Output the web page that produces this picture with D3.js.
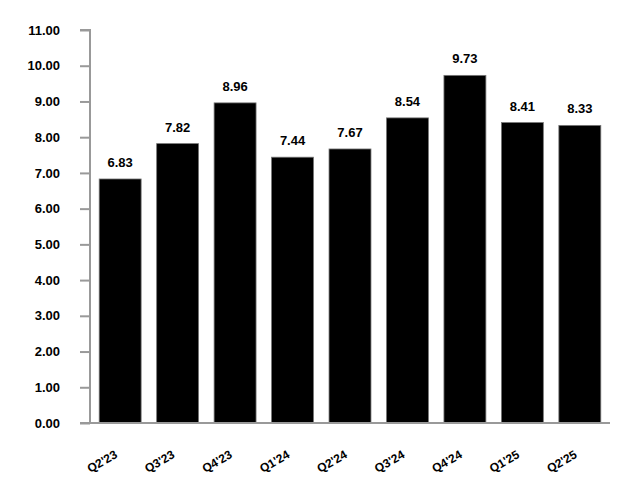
<!DOCTYPE html>
<html>
<head>
<meta charset="utf-8">
<script src="https://cdn.jsdelivr.net/npm/d3@7"></script>
<style>
  body { margin: 0; background: #fff; }
  text { font-family: "Liberation Sans", Arial, sans-serif; font-weight: bold; }
</style>
</head>
<body>
<div id="chart"></div>
<script>
// data
const quarters = ["Q2'23", "Q3'23", "Q4'23", "Q1'24", "Q2'24", "Q3'24", "Q4'24", "Q1'25", "Q2'25"];
const values = [6.83, 7.82, 8.96, 7.44, 7.67, 8.54, 9.73, 8.41, 8.33];
const yTicks = [0, 1, 2, 3, 4, 5, 6, 7, 8, 9, 10, 11];

(function () {
    const width = 640, height = 500;
    const margin = {left: 90, right: 610, top: 30, bottom: 423};

    const svg = d3.select("#chart").append("svg")
        .attr("width", width)
        .attr("height", height);

    const x = d3.scaleBand()
        .domain(quarters)
        .range([margin.left, margin.right])
        .paddingInner(0.27)
        .paddingOuter(0.16);

    const y = d3.scaleLinear()
        .domain([0, 11])
        .range([margin.bottom, margin.top]);

    // y axis
    const yAxis = svg.append("g")
        .attr("transform", "translate(" + margin.left + ",0)")
        .call(d3.axisLeft(y).tickValues(yTicks).tickSize(10).tickPadding(20)
            .tickFormat(d3.format(".2f")));
    yAxis.selectAll("line").attr("stroke", "#999").attr("stroke-width", 2);
    yAxis.select(".domain").attr("stroke", "#999").attr("stroke-width", 2)
        .attr("d", "M-10," + margin.top + "H0V" + margin.bottom);
    yAxis.selectAll("text").attr("fill", "#000").style("font-size", "13px");

    // bars
    svg.selectAll(".bar")
        .data(values)
        .enter().append("rect")
        .attr("class", "bar")
        .attr("x", (d, i) => x(quarters[i]))
        .attr("width", x.bandwidth())
        .attr("y", d => y(d))
        .attr("height", d => y(0) - y(d))
        .attr("fill", "#000")
        .attr("stroke", "#777")
        .attr("stroke-width", 0.8);

    // x axis line
    svg.append("line")
        .attr("x1", margin.left - 10).attr("x2", margin.right)
        .attr("y1", margin.bottom).attr("y2", margin.bottom)
        .attr("stroke", "#999").attr("stroke-width", 2);

    // value labels
    svg.selectAll(".val")
        .data(values)
        .enter().append("text")
        .attr("class", "val")
        .attr("x", (d, i) => x(quarters[i]) + x.bandwidth() / 2)
        .attr("y", d => y(d) - 12)
        .attr("text-anchor", "middle")
        .style("font-size", "13px")
        .text(d => d.toFixed(2));

    // category labels, rotated
    svg.selectAll(".cat")
        .data(quarters)
        .enter().append("text")
        .attr("class", "cat")
        .attr("text-anchor", "end")
        .attr("transform", d => "translate(" + (x(d) + x.bandwidth() / 2 - 2) + "," + (margin.bottom + 34) + ") rotate(-30)")
        .style("font-size", "12px")
        .text(d => d);
})();
</script>
</body>
</html>
